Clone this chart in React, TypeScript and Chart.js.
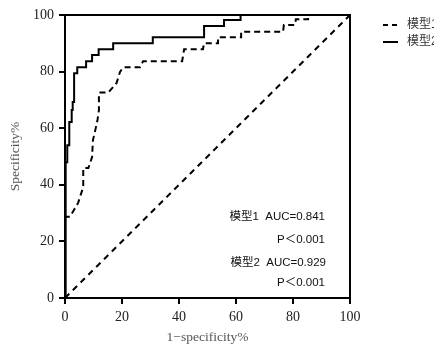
import React, { useEffect, useRef } from "react";
import { Chart, registerables } from "chart.js";

Chart.register(...registerables);

const seriesNames = ["模型1", "模型2"];

const model1X = [0, 0, 1.75, 4.6, 6.4, 6.4, 8.2, 9.5, 9.8, 10.5, 11.4, 11.9, 11.9, 12.3, 15.2, 18.1, 19.3, 20.4, 26.3, 27.4, 41.1, 41.8, 48.4, 48.8, 53.7, 53.7, 61.8, 61.8, 76.5, 76.8, 80.7, 81, 85.3, 85.3, 100];
const model1Y = [0, 28.7, 28.7, 33.6, 39.2, 45.9, 45.9, 49.8, 55.8, 58.7, 62.9, 66.4, 72.4, 72.6, 72.6, 76, 79.9, 81.5, 81.5, 83.7, 83.7, 87.9, 87.9, 90, 90, 92.1, 92.1, 94.1, 94.1, 96.5, 96.5, 98.5, 98.5, 100, 100];

const model2X = [0, 0, 0.35, 0.35, 0.8, 0.8, 1.5, 1.5, 2.35, 2.35, 2.7, 2.7, 3.2, 3.2, 4.3, 4.3, 7.4, 7.4, 9.5, 9.5, 11.8, 11.8, 16.9, 16.9, 30.8, 30.8, 48.8, 48.8, 55.8, 55.8, 61.6, 61.6, 100];
const model2Y = [0, 41, 41, 48, 48, 54, 54, 62.2, 62.2, 66.4, 66.4, 69.3, 69.3, 79.4, 79.4, 81.5, 81.5, 83.7, 83.7, 85.9, 85.9, 87.9, 87.9, 90, 90, 92.1, 92.1, 96.1, 96.1, 98.2, 98.2, 100, 100];

const refX = [0, 100];
const refY = [0, 100];

const xTicks = [0, 20, 40, 60, 80, 100];
const yTicks = [0, 20, 40, 60, 80, 100];

const annotationLines = ["模型1  AUC=0.841", "P＜0.001", "模型2  AUC=0.929", "P＜0.001"];

const SANS = "'Liberation Sans', Arial, 'Noto Sans CJK SC', sans-serif";
const SERIF = "'Liberation Serif', 'DejaVu Serif', serif";

const toPoints = (xs: number[], ys: number[]) => xs.map((x, i) => ({ x, y: ys[i] }));

const framePlugin = {
  id: "frameAndText",
  afterDraw(chart: any) {
    const { ctx, chartArea } = chart;
    const { left, right, top, bottom } = chartArea;
    ctx.save();
    ctx.strokeStyle = "#000";
    ctx.lineWidth = 2;
    ctx.setLineDash([]);
    ctx.beginPath();
    ctx.moveTo(left - 1, top);
    ctx.lineTo(right, top);
    ctx.lineTo(right, bottom + 1);
    ctx.stroke();

    // annotation text
    ctx.fillStyle = "#111";
    ctx.font = `11.5px ${SANS}`;
    ctx.textAlign = "right";
    ctx.textBaseline = "middle";
    const ys = [217, 240, 263, 283];
    const xs = [325, 325, 326, 325];
    annotationLines.forEach((t, i) => ctx.fillText(t, xs[i], ys[i]));

    // legend
    const legendY = [25, 42];
    const dashes = [[5, 4], []];
    seriesNames.forEach((name, i) => {
      ctx.beginPath();
      ctx.lineWidth = 2;
      ctx.strokeStyle = "#000";
      ctx.setLineDash(dashes[i]);
      ctx.moveTo(383, legendY[i]);
      ctx.lineTo(398, legendY[i]);
      ctx.stroke();
      ctx.setLineDash([]);
      ctx.fillStyle = "#333";
      ctx.font = `12px ${SANS}`;
      ctx.textAlign = "left";
      ctx.fillText(name, 407, legendY[i]);
    });
    ctx.restore();
  },
};

export default function App() {
  const ref = useRef<HTMLCanvasElement | null>(null);

  useEffect(() => {
    if (!ref.current) return;
    const chart = new Chart(ref.current, {
      type: "line",
      data: {
        datasets: [
          {
            label: seriesNames[0],
            data: toPoints(model1X, model1Y),
            borderColor: "#000",
            borderWidth: 2,
            borderDash: [6, 4],
            pointRadius: 0,
            fill: false,
            tension: 0,
          },
          {
            label: seriesNames[1],
            data: toPoints(model2X, model2Y),
            borderColor: "#000",
            borderWidth: 2,
            pointRadius: 0,
            fill: false,
            tension: 0,
          },
          {
            label: "ref",
            data: toPoints(refX, refY),
            borderColor: "#000",
            borderWidth: 2,
            borderDash: [6, 5],
            pointRadius: 0,
            fill: false,
          },
        ],
      },
      options: {
        animation: false,
        responsive: false,
        parsing: true,
        layout: { padding: { left: 0, right: 84, top: 15, bottom: 0 } },
        plugins: { legend: { display: false }, tooltip: { enabled: false } },
        scales: {
          x: {
            type: "linear",
            min: 0,
            max: 100,
            afterFit: (s: any) => {
              s.height = 51;
            },
            afterBuildTicks: (s: any) => {
              s.ticks = xTicks.map((v) => ({ value: v }));
            },
            border: { display: true, color: "#000", width: 2 },
            grid: { drawOnChartArea: false, drawTicks: true, tickLength: 6, color: "#000", lineWidth: 2 },
            ticks: { color: "#222", font: { family: SERIF, size: 14 }, padding: 5 },
            title: {
              display: true,
              text: "1−specificity%",
              color: "#555",
              font: { family: SERIF, size: 13.5 },
              padding: { top: 0, bottom: 3 },
            },
          },
          y: {
            type: "linear",
            min: 0,
            max: 100,
            afterFit: (s: any) => {
              s.width = 65;
            },
            afterBuildTicks: (s: any) => {
              s.ticks = yTicks.map((v) => ({ value: v }));
            },
            border: { display: true, color: "#000", width: 2 },
            grid: { drawOnChartArea: false, drawTicks: true, tickLength: 6, color: "#000", lineWidth: 2 },
            ticks: { color: "#222", font: { family: SERIF, size: 14 }, padding: 5 },
            title: {
              display: true,
              text: "Specificity%",
              color: "#555",
              font: { family: SERIF, size: 13.5 },
              padding: { top: 7, bottom: 0 },
            },
          },
        },
      },
      plugins: [framePlugin],
    });
    return () => chart.destroy();
  }, []);

  return (
    <div style={{ position: "fixed", left: 0, top: 0, width: 434, height: 349, background: "#fff" }}>
      <canvas ref={ref} width={434} height={349} style={{ display: "block", width: 434, height: 349 }} />
    </div>
  );
}
